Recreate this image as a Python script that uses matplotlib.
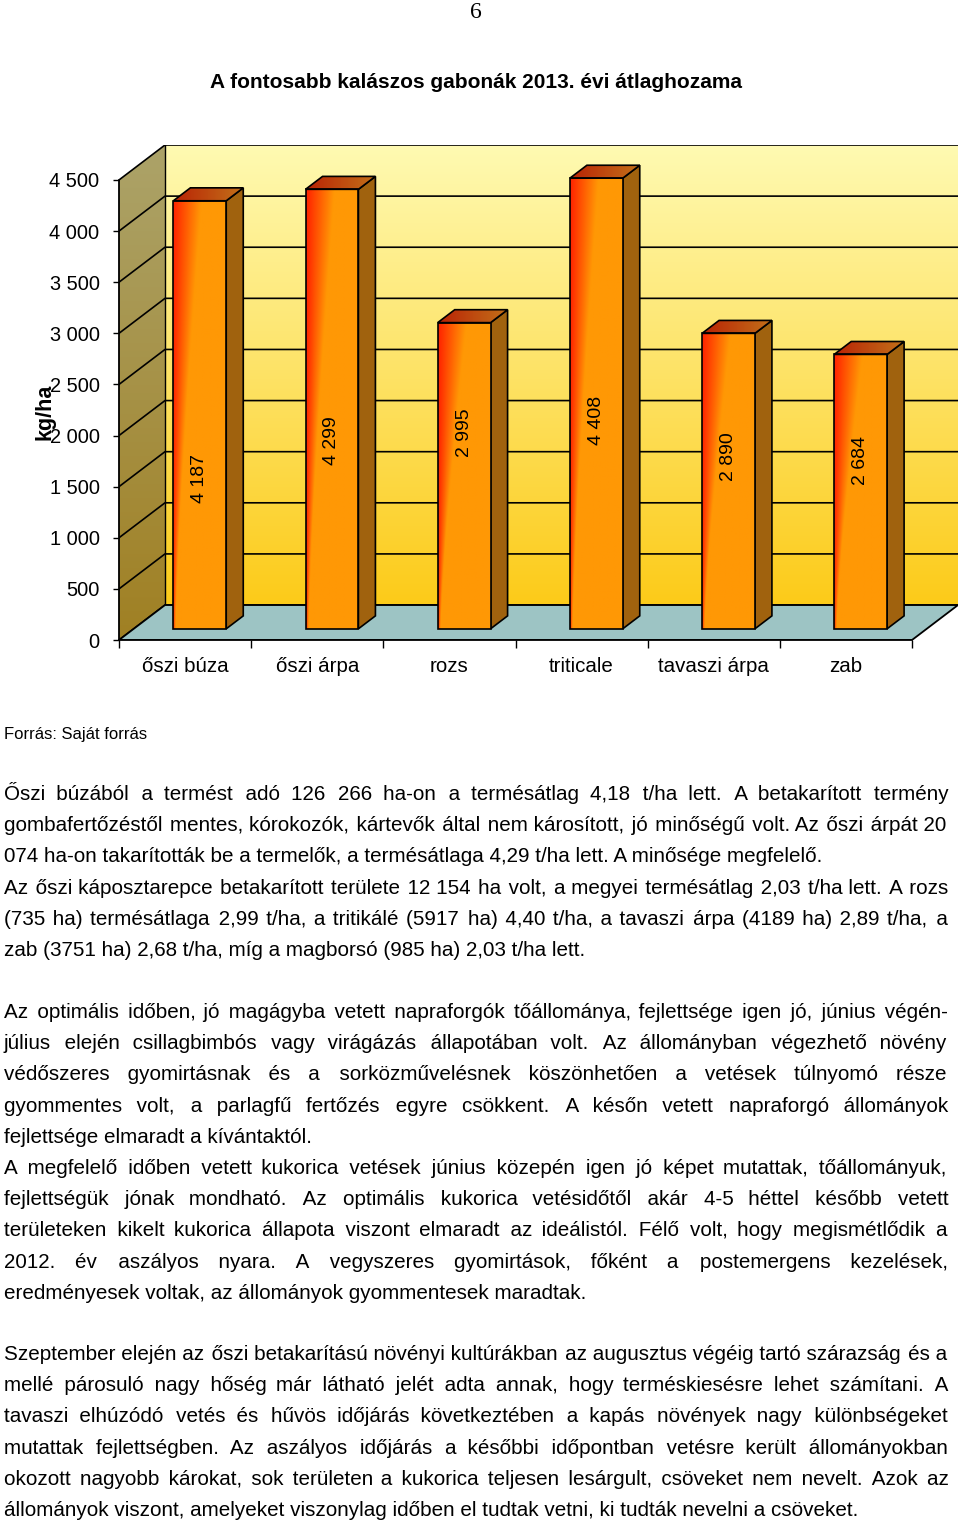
import numpy as np
import matplotlib
matplotlib.use('Agg')
import matplotlib.pyplot as plt
from matplotlib.patches import Polygon

plt.rcParams['font.family'] = ['Liberation Sans', 'DejaVu Sans']

# data
categories = ['őszi búza', 'őszi árpa', 'rozs', 'triticale', 'tavaszi árpa', 'zab']
yields = [4187, 4299, 2995, 4408, 2890, 2684]
value_labels = ['4 187', '4 299', '2 995', '4 408', '2 890', '2 684']
y_ticks = [0, 500, 1000, 1500, 2000, 2500, 3000, 3500, 4000, 4500]
y_tick_labels = ['0', '500', '1 000', '1 500', '2 000', '2 500', '3 000', '3 500', '4 000', '4 500']
label_y = [1475, 1837, 1915, 2043, 1681, 1651]

title = 'A fontosabb kalászos gabonák 2013. évi átlaghozama'
source = 'Forrás: Saját forrás'

paragraphs = [
    (794, [
        ('Őszi búzából a termést adó 126 266 ha-on a termésátlag 4,18 t/ha lett. A betakarított termény', True),
        ('gombafertőzéstől mentes, kórokozók, kártevők által nem károsított, jó minőségű volt. Az őszi árpát 20', True),
        ('074 ha-on takarították be a termelők, a termésátlaga 4,29 t/ha lett. A minősége megfelelő.', False),
        ('Az őszi káposztarepce betakarított területe 12 154 ha volt, a megyei termésátlag 2,03 t/ha lett. A rozs', True),
        ('(735 ha) termésátlaga 2,99 t/ha, a tritikálé (5917 ha) 4,40 t/ha, a tavaszi árpa (4189 ha) 2,89 t/ha, a', True),
        ('zab (3751 ha) 2,68 t/ha, míg a magborsó (985 ha) 2,03 t/ha lett.', False),
    ]),
    (1012, [
        ('Az optimális időben, jó magágyba vetett napraforgók tőállománya, fejlettsége igen jó, június végén-', True),
        ('július elején csillagbimbós vagy virágázás állapotában volt. Az állományban végezhető növény', True),
        ('védőszeres gyomirtásnak és a sorközművelésnek köszönhetően a vetések túlnyomó része', True),
        ('gyommentes volt, a parlagfű fertőzés egyre csökkent. A későn vetett napraforgó állományok', True),
        ('fejlettsége elmaradt a kívántaktól.', False),
        ('A megfelelő időben vetett kukorica vetések június közepén igen jó képet mutattak, tőállományuk,', True),
        ('fejlettségük jónak mondható. Az optimális kukorica vetésidőtől akár 4-5 héttel később vetett', True),
        ('területeken kikelt kukorica állapota viszont elmaradt az ideálistól. Félő volt, hogy megismétlődik a', True),
        ('2012. év aszályos nyara. A vegyszeres gyomirtások, főként a postemergens kezelések,', True),
        ('eredményesek voltak, az állományok gyommentesek maradtak.', False),
    ]),
    (1354, [
        ('Szeptember elején az őszi betakarítású növényi kultúrákban az augusztus végéig tartó szárazság és a', True),
        ('mellé párosuló nagy hőség már látható jelét adta annak, hogy terméskiesésre lehet számítani. A', True),
        ('tavaszi elhúzódó vetés és hűvös időjárás következtében a kapás növények nagy különbségeket', True),
        ('mutattak fejlettségben. Az aszályos időjárás a későbbi időpontban vetésre került állományokban', True),
        ('okozott nagyobb károkat, sok területen a kukorica teljesen lesárgult, csöveket nem nevelt. Azok az', True),
        ('állományok viszont, amelyeket viszonylag időben el tudtak vetni, ki tudták nevelni a csöveket.', False),
    ]),
]

W, H = 960, 1523
fig = plt.figure(figsize=(W / 100, H / 100), dpi=100)
fig.patch.set_facecolor('white')


def fx(x):
    return x / W


def fy(y):
    return 1 - y / H


# 3d chart geometry (depth offset in data units)
DX = 0.348
DY = 342.0
ymax = 4500
bar_w = 0.40
d0, d1 = 0.32, 0.69

ax = fig.add_axes([fx(119), fy(640), 839 / W, 495 / H])


def grad_fill(poly_pts, img, zorder, origin='lower'):
    poly = Polygon(poly_pts, closed=True, facecolor='none', edgecolor='none')
    ax.add_patch(poly)
    xs = [p[0] for p in poly_pts]
    ys = [p[1] for p in poly_pts]
    im = ax.imshow(img, extent=[min(xs), max(xs), min(ys), max(ys)], origin=origin,
                   aspect='auto', zorder=zorder, interpolation='bilinear')
    im.set_clip_path(poly)


def vgrad(c_bottom, c_top, n=200):
    t = np.linspace(0, 1, n)[:, None, None]
    a = np.array(c_bottom)[None, None, :] / 255
    b = np.array(c_top)[None, None, :] / 255
    return a + (b - a) * t


# side wall
side = [(0, 0), (0, ymax), (DX, ymax + DY), (DX, DY)]
grad_fill(side, vgrad((160, 128, 35), (172, 163, 105)), 0.5)
# back wall
back = [(DX, DY), (DX, ymax + DY), (6 + DX, ymax + DY), (6 + DX, DY)]
grad_fill(back, vgrad((252, 203, 25), (255, 250, 178)), 0.5)
# floor
floor = Polygon([(0, 0), (6, 0), (6 + DX, DY), (DX, DY)], closed=True,
                facecolor='#9dc4c4', edgecolor='black', lw=1.3, zorder=1)
ax.add_patch(floor)

for v in y_ticks:
    ax.plot([0, DX, 6 + DX], [v, v + DY, v + DY], color='black', lw=1.2, zorder=0.8,
            solid_capstyle='butt')
ax.plot([DX, DX], [DY, ymax + DY], color='black', lw=1.0, zorder=0.8)

# bar gradients
nx, ny = 60, 200
u = np.linspace(0, 1, nx)[None, :]
vv = np.linspace(0, 1, ny)[:, None]
red = np.array([255, 35, 0]) / 255
orange = np.array([255, 152, 5]) / 255
t = np.clip(u / (0.04 + 0.5 * vv ** 1.3), 0, 1)[:, :, None]
front_img = red + (orange - red) * t
top_u = np.linspace(0, 1, nx)[None, :, None]
top_img = np.repeat(np.array([185, 35, 5])[None, None, :] / 255 +
                    (np.array([195, 112, 25]) - np.array([185, 35, 5]))[None, None, :] / 255 * top_u,
                    10, axis=0)

for i, val in enumerate(yields):
    xl = i + 0.5 - bar_w / 2 + d0 * DX
    xr = xl + bar_w
    yb = d0 * DY
    yt = val + d0 * DY
    ddx = (d1 - d0) * DX
    ddy = (d1 - d0) * DY
    z = 3 + i * 0.01
    # side
    ax.add_patch(Polygon([(xr, yb), (xr + ddx, yb + ddy), (xr + ddx, yt + ddy), (xr, yt)],
                         closed=True, facecolor='#a0620e', edgecolor='black', lw=1.2, zorder=z))
    # top
    top_pts = [(xl, yt), (xr, yt), (xr + ddx, yt + ddy), (xl + ddx, yt + ddy)]
    grad_fill(top_pts, top_img, z)
    ax.add_patch(Polygon(top_pts, closed=True, facecolor='none', edgecolor='black', lw=1.2, zorder=z + 0.002))
    # front
    front_pts = [(xl, yb), (xr, yb), (xr, yt), (xl, yt)]
    grad_fill(front_pts, front_img, z)
    ax.add_patch(Polygon(front_pts, closed=True, facecolor='none', edgecolor='black', lw=1.2, zorder=z + 0.003))
    ax.text((xl + xr) / 2, label_y[i] + d0 * DY, value_labels[i], rotation=90, ha='center',
            va='center', fontsize=14, zorder=z + 0.004)

ax.set_xlim(0, 6 + DX)
ax.set_ylim(0, ymax + DY)
ax.set_facecolor('none')
for s in ['top', 'right']:
    ax.spines[s].set_visible(False)
ax.spines['left'].set_bounds(0, ymax)
ax.spines['bottom'].set_bounds(0, 6)
ax.spines['left'].set_linewidth(1.3)
ax.spines['bottom'].set_linewidth(1.3)
ax.spines['left'].set_zorder(2)
ax.spines['bottom'].set_zorder(2)

ax.set_yticks(y_ticks)
ax.set_yticklabels(y_tick_labels)
ax.tick_params(axis='y', length=4.5, width=1, pad=9.5, labelsize=14.4)
ax.set_xticks(range(7))
ax.set_xticklabels([''] * 7)
ax.set_xticks([i + 0.5 for i in range(6)], minor=True)
ax.set_xticklabels(categories, minor=True)
ax.tick_params(axis='x', which='major', length=6, width=1)
ax.tick_params(axis='x', which='minor', length=0, pad=12, labelsize=14.8)

fig.text(fx(45), fy(412), 'kg/ha', rotation=90, ha='center', va='center', fontsize=15.5,
         fontweight='bold')

# page header and title
fig.text(fx(476), fy(13), '6', ha='center', va='center', fontsize=17,
         family=['Liberation Serif', 'DejaVu Serif'])
fig.text(fx(476), fy(83), title, ha='center', va='center', fontsize=15, fontweight='bold')
fig.text(fx(4), fy(735), source, ha='left', va='center', fontsize=12)

# body text, justified by padding the word gaps with hair spaces
FS = 14.9
LEFT, RIGHT = 4, 947
LINE = 31.2
HAIR = '\u200a'
renderer = fig.canvas.get_renderer()


def measure(s):
    tt = fig.text(0, 0, s, fontsize=FS)
    w = tt.get_window_extent(renderer).width
    tt.remove()
    return w


hair_w = measure('x' + HAIR * 10 + 'x') - measure('xx')
hair_w = hair_w / 10 if hair_w > 0 else 1.0

for y0, lines in paragraphs:
    for k, (line, justify) in enumerate(lines):
        y = y0 + k * LINE + 6
        s = line
        words = line.split(' ')
        if justify and len(words) > 1:
            n = len(words) - 1
            per = (RIGHT - LEFT - measure(line)) / n
            parts = [words[0]]
            prev = 0
            for j in range(1, n + 1):
                cum = int(round(per * j / hair_w))
                parts.append(' ' + HAIR * max(cum - prev, 0) + words[j])
                prev = cum
            s = ''.join(parts)
        fig.text(fx(LEFT), fy(y), s, fontsize=FS, ha='left', va='baseline')

fig.savefig('out.png', dpi=100)
